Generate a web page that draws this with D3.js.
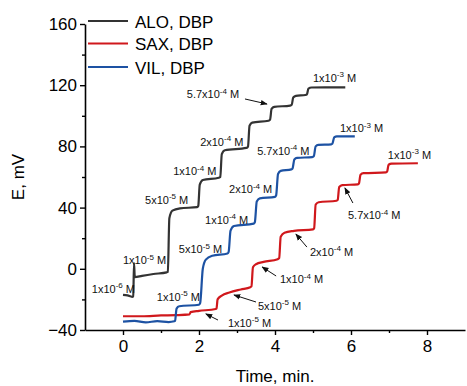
<!DOCTYPE html>
<html>
<head>
<meta charset="utf-8">
<script src="https://cdn.jsdelivr.net/npm/d3@7"></script>
<style>
  html, body { margin: 0; padding: 0; background: #fff; }
  svg { display: block; font-family: Arial, "Liberation Sans", sans-serif; }
</style>
</head>
<body>
<svg id="chart" width="467" height="386"></svg>
<script>
// Potentiometric response curves: electrode potential vs time
// for stepwise concentration additions.
const seriesNames = ["ALO, DBP", "SAX, DBP", "VIL, DBP"];
const seriesColors = ["#333333", "#d0181c", "#1d52a3"];

const aloTime = [0, 0.12, 0.24, 0.27, 0.29, 0.31, 0.5, 0.8, 1.15,
  1.18, 1.22, 1.3, 1.5, 1.95,
  1.98, 2.02, 2.1, 2.52,
  2.56, 2.6, 2.68, 3.25,
  3.29, 3.33, 3.4, 3.83,
  3.87, 3.91, 3.98, 4.4,
  4.44, 4.48, 4.55, 4.8,
  4.84, 4.88, 4.96, 5.85];
const aloE = [-17, -17.4, -18.3, -18, 3.8, -5.5, -4.6, -3.4, -2.3,
  -2, 33, 38, 39.5, 40.3,
  41, 55, 58, 59.5,
  60, 75, 77.5, 79,
  80, 93.5, 95.5, 96.8,
  97.5, 104.5, 105.8, 106.7,
  107.2, 112, 113, 113.6,
  114, 117.8, 118.5, 118.6];

const saxTime = [0, 0.5, 1.0, 1.4, 1.75, 1.78, 2.0, 2.44,
  2.46, 2.49, 2.6, 2.8, 3.1, 3.35,
  3.38, 3.42, 3.5, 3.7, 4.07,
  4.11, 4.15, 4.25, 4.5, 5.0,
  5.03, 5.07, 5.15, 5.62,
  5.65, 5.69, 5.77, 6.18,
  6.21, 6.25, 6.33, 6.92,
  6.95, 6.99, 7.07, 7.76];
const saxE = [-31, -31, -30.5, -30.3, -29.8, -28.3, -27.5, -26.3,
  -26, -20, -17.5, -15.5, -13.5, -12,
  -11.5, 1, 3, 4.5, 6.3,
  7, 21, 23.5, 24.8, 25.8,
  26.5, 42, 43.5, 44.5,
  45, 53.5, 54.7, 55.2,
  55.8, 61.5, 62.5, 63,
  63.5, 68, 68.7, 69];

const vilTime = [0, 0.3, 0.6, 0.9, 1.2, 1.35,
  1.37, 1.41, 1.48, 2.0,
  2.03, 2.1, 2.18, 2.35, 2.75,
  2.78, 2.83, 2.92, 3.44,
  3.47, 3.52, 3.6, 4.0,
  4.03, 4.08, 4.15, 4.43,
  4.46, 4.51, 4.58, 4.98,
  5.02, 5.07, 5.14, 5.48,
  5.51, 5.56, 5.63, 6.1];
const vilE = [-34.5, -34, -35, -34.2, -34.8, -34.3,
  -34, -26, -24.5, -23.5,
  -22.5, 0, 6, 8.5, 10,
  11, 25, 28, 29.5,
  30.5, 44, 46, 47,
  48, 62, 64, 65,
  65.5, 71.5, 72.5, 73,
  73.5, 80, 81, 81.3,
  81.8, 86, 86.5, 86.6];

const xTicks = [0, 2, 4, 6, 8];
const xMinorTicks = [1, 3, 5, 7];
const yTicks = [-40, 0, 40, 80, 120, 160];
const yMinorTicks = [-20, 20, 60, 100, 140];

// Concentration labels: mantissa, exponent, anchor (t, E) in data units
const aloLabels = [
  ["1x10", "-6", -0.82, -15.8], ["1x10", "-5", 0, 3.1],
  ["5x10", "-5", 0.58, 42.4], ["1x10", "-4", 1.32, 61.3],
  ["2x10", "-4", 2.03, 80.3], ["5.7x10", "-4", 1.68, 111.6],
  ["1x10", "-3", 5.0, 122.1]
];
const vilLabels = [
  ["1x10", "-5", 0.89, -21], ["5x10", "-5", 1.47, 10.3],
  ["1x10", "-4", 2.16, 29.3], ["2x10", "-4", 2.79, 49.5],
  ["5.7x10", "-4", 3.53, 74.4], ["1x10", "-3", 5.71, 89.4]
];
const saxLabels = [
  ["1x10", "-5", 2.76, -38], ["5x10", "-5", 3.55, -26.9],
  ["1x10", "-4", 4.13, -9.3], ["2x10", "-4", 4.92, 8.4],
  ["5.7x10", "-4", 5.92, 32.5], ["1x10", "-3", 6.97, 71.8]
];
// Arrows: from (t, E) to (t, E)
const arrows = [
  [3.21, 111, 3.79, 107.7],
  [2.5, -33.5, 2.18, -29.5],
  [3.5, -21.7, 2.92, -17.1],
  [4.03, -4.7, 3.66, 1.2],
  [4.84, 14.2, 4.55, 22.7],
  [6.05, 43, 5.84, 52.9]
];

const svg = d3.select("#chart");
const x = d3.scaleLinear().domain([-1, 9]).range([85, 465]);
const y = d3.scaleLinear().domain([-40, 160]).range([330, 24]);

const axisColor = "#000";

// Axes
svg.append("g").attr("transform", "translate(0,330)")
  .call(d3.axisBottom(x).tickValues(xTicks).tickSize(5).tickPadding(5).tickSizeOuter(0));
svg.append("g").attr("transform", "translate(0,330)")
  .call(d3.axisBottom(x).tickValues(xMinorTicks).tickSize(3).tickFormat("").tickSizeOuter(0))
  .select(".domain").remove();
svg.append("g").attr("transform", "translate(85,0)")
  .call(d3.axisLeft(y).tickValues(yTicks).tickSize(5).tickPadding(3).tickSizeOuter(0));
svg.append("g").attr("transform", "translate(85,0)")
  .call(d3.axisLeft(y).tickValues(yMinorTicks).tickSize(3).tickFormat("").tickSizeOuter(0))
  .select(".domain").remove();

svg.selectAll(".domain").attr("stroke", axisColor).attr("stroke-width", 1.6);
svg.selectAll(".tick line").attr("stroke", axisColor).attr("stroke-width", 1.4);
svg.selectAll(".tick text").attr("font-size", 17).attr("fill", "#000")
  .attr("font-family", "Arial, 'Liberation Sans', sans-serif");

// Axis titles
svg.append("text").attr("x", 275).attr("y", 382).attr("text-anchor", "middle")
  .attr("font-size", 17).text("Time, min.");
svg.append("text").attr("transform", "translate(24,177) rotate(-90)")
  .attr("text-anchor", "middle").attr("font-size", 17).text("E, mV");

// Curves
const line = d3.line().x(d => x(d[0])).y(d => y(d[1])).curve(d3.curveMonotoneX);
const seriesData = [
  d3.zip(aloTime, aloE),
  d3.zip(saxTime, saxE),
  d3.zip(vilTime, vilE)
];
// draw order: red first, then blue, then black on top
[1, 2, 0].forEach(i => {
  svg.append("path").datum(seriesData[i])
    .attr("fill", "none").attr("stroke", seriesColors[i])
    .attr("stroke-width", 2.2).attr("stroke-linejoin", "round")
    .attr("d", line);
});

// Legend
const legendY = [21, 43.5, 67];
seriesNames.forEach((name, i) => {
  svg.append("line").attr("x1", 88).attr("x2", 128)
    .attr("y1", legendY[i]).attr("y2", legendY[i])
    .attr("stroke", seriesColors[i]).attr("stroke-width", 2.2);
  svg.append("text").attr("x", 135).attr("y", legendY[i] + 6.5)
    .attr("font-size", 17).attr("fill", "#000").text(name);
});

// Concentration labels
function drawLabel(d) {
  const t = svg.append("text").attr("x", x(d[2])).attr("y", y(d[3]))
    .attr("font-size", 11).attr("fill", "#111");
  t.append("tspan").text(d[0]);
  t.append("tspan").attr("font-size", 8).attr("dy", -4.5).text(d[1]);
  t.append("tspan").attr("dy", 4.5).text(" M");
}
aloLabels.concat(vilLabels, saxLabels).forEach(drawLabel);

// Arrows
svg.append("defs").append("marker").attr("id", "head")
  .attr("viewBox", "0 0 10 10").attr("refX", 9).attr("refY", 5)
  .attr("markerWidth", 7).attr("markerHeight", 7).attr("orient", "auto")
  .attr("markerUnits", "userSpaceOnUse")
  .append("path").attr("d", "M0,1 L10,5 L0,9 z").attr("fill", "#111");
arrows.forEach(a => {
  svg.append("line").attr("x1", x(a[0])).attr("y1", y(a[1]))
    .attr("x2", x(a[2])).attr("y2", y(a[3]))
    .attr("stroke", "#111").attr("stroke-width", 1)
    .attr("marker-end", "url(#head)");
});
</script>
</body>
</html>
